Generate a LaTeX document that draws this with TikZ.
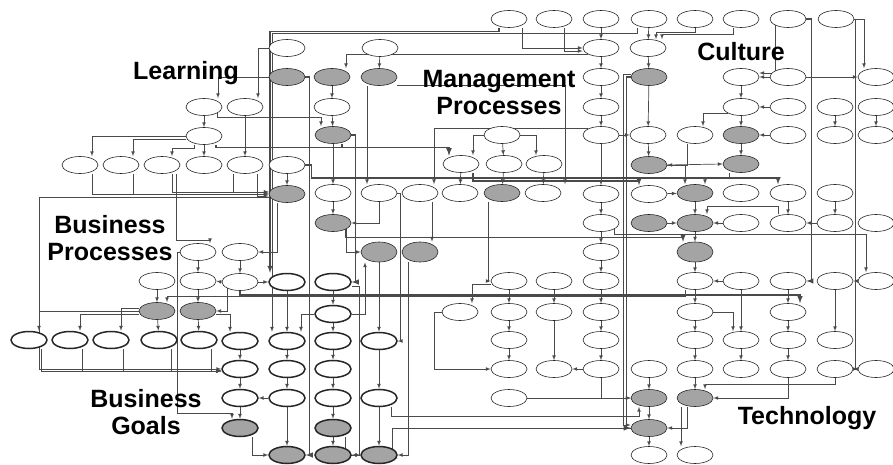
\documentclass[tikz,border=0pt]{standalone}
\usepackage{fontspec}
\setmainfont{Liberation Sans}
\usetikzlibrary{shapes}
\usetikzlibrary{arrows}
\usetikzlibrary{calc}
\definecolor{key gray}{HTML}{A4A4A4}
\definecolor{wire gray}{HTML}{4A4A4A}
\pgfdeclarelayer{wires}
\pgfsetlayers{wires,main}

\tikzset{
  fact/.style = {ellipse, draw = black!85, line width = 0.6pt, fill = white,
    minimum width = 36pt, minimum height = 17pt, inner sep = 0pt},
  key/.style = {fact, fill = key gray},
  goal/.style = {fact, line width = 1.5pt},
  goalkey/.style = {goal, fill = key gray},
  wire/.style = {draw = wire gray, line width = 0.7pt, ->, >=latex},
  band/.style = {wire, line width = 1.4pt},
  area/.style = {font = \fontsize{25}{27}\selectfont\bfseries, align = center, inner sep = 0pt}
}

\begin{document}
\begin{tikzpicture}[x = 1pt, y = -1pt]
  \useasboundingbox (0, 0) rectangle (893, 465);

  % factors
  \foreach \n/\x/\y in {r1c12/509/19, r1c13/554/19, r1c14/601/19, r1c15/649/19, r1c16/695/19,
      r1c17/741/19, r1c18/788/19, r1c19/836/19,
      r2c7/287/48, r2c9/380/48, r2c14/601/48, r2c15/648/48,
      r3c14/601/77, r3c17/741/77, r3c18/788/77, r3c20/876/77,
      r4c5/204/107, r4c6/245/107, r4c8/332/107, r4c14/601/107, r4c17/741/107, r4c18/788/107,
      r4c19/835/107, r4c20/876/107,
      r5c5/204/136, r5c12/502/135, r5c14/601/135, r5c15/648/135, r5c16/695/135, r5c18/788/135,
      r5c19/835/135, r5c20/876/135,
      r6c2/80/165, r6c3/121/165, r6c4/162/165, r6c5/204/165, r6c6/245/165, r6c7/287/165,
      r6c11/461/164, r6c12/504/164, r6c13/544/164,
      r7c8/333/193, r7c9/379/193, r7c10/420/193, r7c11/460/193, r7c13/543/193, r7c14/601/194,
      r7c15/649/194, r7c17/741/193, r7c18/788/193, r7c19/835/193,
      r8c14/601/223, r8c17/741/223, r8c18/788/223, r8c19/835/223, r8c20/876/223,
      r9c5/198/252, r9c6/240/252, r9c14/601/252,
      r10c4/157/281, r10c5/198/281, r10c6/240/282, r10c12/509/281, r10c13/554/281, r10c14/601/281,
      r10c16/695/281, r10c17/741/281, r10c18/788/281, r10c19/835/281, r10c20/876/281,
      r11c11/460/312, r11c12/509/312, r11c13/554/312, r11c14/601/312, r11c16/695/312, r11c18/788/312,
      r12c12/509/340, r12c14/601/340, r12c16/695/340, r12c17/741/340, r12c18/788/340, r12c19/835/340,
      r13c12/509/369, r13c13/554/369, r13c14/601/369, r13c15/649/369, r13c16/695/369,
      r13c17/741/369, r13c18/788/369, r13c19/835/369, r13c20/876/369,
      r14c12/509/398, r16c15/649/455, r16c16/695/455}
    \node[fact] (\n) at (\x, \y) {};

  % key factors
  \foreach \n/\x/\y in {r3c7/287/77, r3c8/332/77, r3c9/379/77, r3c15/649/77, r5c8/333/135,
      r5c17/741/135, r6c15/649/165, r6c17/741/164, r7c7/287/194, r7c12/502/193, r7c16/695/193,
      r8c8/333/223, r8c15/649/223, r8c16/695/223, r11c4/157/311, r11c5/198/311,
      r14c15/649/398, r14c16/695/398, r15c15/649/428}
    \node[key] (\n) at (\x, \y) {};
  \foreach \n/\x/\y in {r9c9/379/252, r9c10/420/252, r9c16/695/252}
    \node[key, minimum height = 20pt] (\n) at (\x, \y) {};

  % business goals
  \foreach \n/\x/\y in {r10c7/287/282, r10c8/333/282, r11c8/333/314,
      r12c1/29/340, r12c2/70/340, r12c3/111/340, r12c4/159/340, r12c5/199/340,
      r12c6/240/341, r12c7/287/341, r12c8/333/341, r12c9/379/341,
      r13c6/240/369, r13c7/287/369, r13c8/333/369,
      r14c6/240/398, r14c7/287/398, r14c8/333/398, r14c9/379/398}
    \node[goal] (\n) at (\x, \y) {};
  \foreach \n/\x/\y in {r15c6/240/428, r15c8/333/428, r16c7/287/455, r16c8/333/455, r16c9/379/455}
    \node[goalkey] (\n) at (\x, \y) {};

  % areas
  \node[area] (learning) at (186, 73) {Learning};
  \node[area] (mgmt) at (499, 93) {Management\\Processes};
  \node[area] (culture) at (741, 52) {Culture};
  \node[area] (bizproc) at (110, 238) {Business\\Processes};
  \node[area] (bizgoals) at (146, 412) {Business\\Goals};
  \node[area] (tech) at (807, 418) {Technology};

  \begin{pgfonlayer}{wires}
    \fill[white] (0, 0) rectangle (893, 465);

    % learning
    \draw[wire] (r3c7.west) -| ([xshift=14pt]r4c5.north);
    \draw[wire] (r2c7.west) -| ([xshift=13pt]r4c6.north);
    \draw[wire] (r4c5) -- (r5c5);
    \draw[wire] (r4c6) -- (r6c6);
    \draw[wire] (r4c5.south east) -- ++(0, 4) -| ([xshift=-12pt]r5c8.north);
    \draw[wire] (r5c5.west) -| ([xshift=12pt]r6c2.north);
    \draw[wire] ([yshift=-3pt]r5c5.west) -| ([xshift=12pt]r6c3.north);
    \draw[wire] ([xshift=-10pt]r5c5.south) -- ++(0, 4) -| ([xshift=10pt]r6c4.north);
    \draw[wire] (r5c5) -- (r6c5);
    \draw[wire] ([xshift=12pt]r6c2.south) |- (r7c7.west);
    \draw[wire] ([xshift=12pt]r6c3.south) |- (r7c7.west);
    \draw[wire] ([xshift=10pt]r6c4.south) |- ([yshift=2pt]r7c7.west);
    \draw[wire] ([xshift=-12pt]r6c6.south) |- ([yshift=2pt]r7c7.west);
    \draw[wire] ([xshift=12pt]r6c6.south) |- ([yshift=-2pt]r7c7.west);
    \draw[wire] (r6c7) -- (r7c7);
    \draw[band] ([xshift=-10pt]r1c12.south) -- ++(0, 4) -| ([xshift=-17pt]r10c7.north);
    \draw[wire] ([xshift=-12pt]r1c15.south) -- ++(0, 6) -| ([xshift=-15pt]r12c7.north);

    % business processes
    \draw[wire] ([yshift=-3pt]r7c7.west) -- ++(-229, 0) |- (r13c6.west);
    \draw[wire] ([xshift=14pt]r6c4.south) -- ++(0, 67) -| ([xshift=12pt]r9c5.north);
    \draw[wire] ([xshift=-10pt]r7c7.south) |- (r9c6.east);
    \draw[wire] (r9c5) -- (r10c5);
    \draw[wire] (r9c6) -- (r10c6);
    \draw[wire] (r10c6.west) -- (r10c5.east);
    \draw[wire] (r10c4) -- (r11c4);
    \draw[wire] (r10c5) -- (r11c5);
    \draw[wire] (r10c6.south west) |- (r11c5.east);
    \draw[wire] (r10c6.east) -- (r10c7.west);
    \draw[wire] (r9c5.west) -- ++(-2, 0) -- ++(0, 161) -| ([xshift=-8pt]r15c6.north);

    % business goals
    \draw[wire] (r11c4) -- (r12c4);
    \draw[wire] (r11c5) -- (r12c5);
    \draw[wire] (r11c4.west) -| ([xshift=10pt]r12c1.north);
    \draw[wire] ([yshift=-3pt]r11c4.west) -| ([xshift=10pt]r12c2.north);
    \draw[wire] ([yshift=3pt]r11c4.west) -| ([xshift=10pt]r12c3.north);
    \draw[wire] ([yshift=-3pt]r11c5.east) -| ([xshift=-10pt]r12c6.north);
    \foreach \n in {r12c1, r12c2, r12c3, r12c4, r12c5}
      \draw[wire] ([xshift=12pt]\n.south) |- ([yshift=-2pt]r13c6.west);
    \foreach \a/\b in {r12c6/r13c6, r13c6/r14c6, r14c6/r15c6, r10c7/r12c7, r12c7/r13c7,
        r13c7/r14c7, r14c7/r16c7, r10c8/r11c8, r11c8/r12c8, r12c8/r13c8, r13c8/r14c8,
        r14c8/r15c8, r15c8/r16c8, r9c9/r12c9, r12c9/r14c9, r14c9/r16c9}
      \draw[wire] (\a) -- (\b);
    \draw[wire] ([xshift=12pt]r15c6.south) |- (r16c7.west);
    \draw[wire] (r14c7) -- (r14c6);
    \draw[wire] (r11c8.west) -| ([xshift=14pt]r12c7.north);
    \draw[wire] (r11c8.east) -| ([xshift=-14pt]r9c9.south);
    \draw[wire] ([xshift=12pt]r15c8.south) |- (r16c9.west);
    \draw[wire] ([xshift=-12pt]r9c10.south) |- (r16c9.east);
    \draw[wire] ([yshift=-4pt]r10c8.east) -- ++(8, 0) |- (r16c8.east);

    % management processes
    \draw[wire] (r3c8) -- (r4c8);
    \draw[wire] (r4c8) -- (r5c8);
    \draw[wire] (r2c9) -- (r3c9);
    \draw[wire] (r2c14.south west) -| ([xshift=14pt]r3c8.north);
    \draw[wire] ([yshift=-8pt]r3c9.east) -| ([xshift=22pt]r7c13.north);
    \draw[wire] (r5c14.north west) -| ([xshift=14pt]r7c10.north);
    \draw[wire] ([xshift=-12pt]r3c9.south) -- ([xshift=-12pt]r7c9.north);
    \draw[band] ([xshift=9pt]r5c8.south) -- ++(0, 4) -| ([xshift=-12pt]r6c11.north);
    \draw[band] ([xshift=12pt]r5c5.south) -- ++(0, 3) -| ([xshift=-12pt]r6c11.north);
    \draw[band] (r5c8.east) -- ++(4, 0) |- (r10c8.east);
    \draw[band] (r3c7.east) -- ++(4, 0) |- (r16c7.east);
    \draw[wire] (r5c8) -- (r7c8);
    \draw[wire] (r7c8) -- (r8c8);
    \draw[wire] (r7c9.south) |- (r8c8.east);
    \draw[wire] (r8c8.south east) |- (r9c9.west);
    \draw[wire] (r7c9.east) -- ++(3, 0) |- (r12c9.east);
    \draw[wire] ([xshift=12pt]r7c10.south) -- ([xshift=12pt]r9c10.north);
    \draw[wire] (r5c12.west) -| ([xshift=12pt]r6c11.north);
    \draw[wire] (r5c12) -- (r6c12);
    \draw[wire] (r5c12.east) -| ([xshift=-8pt]r6c13.north);
    \draw[wire] (r6c11) -- (r7c11);
    \draw[wire] (r6c12) -- (r7c12);
    \draw[wire] (r6c13) -- (r7c13);
    \draw[wire] ([xshift=-14pt]r7c12.south) |- (r10c12.west);

    % long bands
    \draw[band] (r6c7.east) -- ++(6, 0) -- ++(0, 13) -| ([xshift=-10pt]r7c18.north);
    \draw[band] ([xshift=12pt]r6c11.south) -- ++(0, 8) -| ([xshift=-10pt]r7c15.north);
    \draw[wire] (r6c15.east) -- (r6c17.west);
    \draw[band] (r8c8.south east) -- ++(0, 8) -| ([xshift=-12pt]r9c16.north);
    \draw[wire] (r8c14.south east) -- ++(0, 5) -| ([xshift=-10pt]r10c20.north);
    \draw[band] (r10c6.south) -- ++(0, 4) -| ([xshift=12pt]r11c18.north);
    \draw[wire] ([xshift=-10pt]r10c16.south) -- ++(0, 7) -| ([xshift=10pt]r11c4.north);

    % lower middle
    \draw[wire] (r10c12) -- (r11c12);
    \draw[wire] ([yshift=-3pt]r10c12.west) -| ([xshift=12pt]r11c11.north);
    \draw[wire] (r10c13) -- (r11c13);
    \draw[wire] (r11c11.west) -- ++(-7, 0) |- (r13c12.west);
    \draw[wire] (r11c12) -- (r12c12);
    \draw[wire] (r12c12) -- (r13c12);
    \draw[wire] (r11c13) -- (r13c13);
    \draw[wire] (r13c14) -- (r13c13);
    \draw[wire] (r14c12.east) -- (r14c15.west);
    \draw[wire] ([xshift=12pt]r14c9.south) -- ++(0, 9) -| ([xshift=-10pt]r14c15.south);
    \draw[wire] (r15c15.west) -- ++(-238, 0) |- ([yshift=-3pt]r16c9.east);

    % column of management factors
    \foreach \a/\b in {r1c14/r2c14, r2c14/r3c14, r3c14/r4c14, r4c14/r5c14, r5c14/r7c14,
        r7c14/r8c14, r8c14/r9c14, r9c14/r10c14, r10c14/r11c14, r11c14/r12c14, r12c14/r13c14}
      \draw[wire] (\a) -- (\b);
    \draw[wire] ([xshift=13pt]r1c12.south) |- (r2c14.west);
    \draw[wire] ([xshift=10pt]r1c13.south) |- ([yshift=-3pt]r2c14.west);

    % culture
    \draw[wire] (r1c15) -- (r2c15);
    \draw[wire] (r1c16.south) -- ++(0, 5) -| ([xshift=8pt]r2c15.north);
    \draw[wire] ([xshift=-8pt]r1c17.south) -- ++(0, 7) -| ([xshift=14pt]r2c15.north);
    \draw[wire] (r2c15) -- (r3c15);
    \draw[wire] (r3c15) -- (r5c15);
    \draw[wire] (r5c15) -- (r6c15);
    \draw[wire] (r5c14) -- (r5c15);
    \draw[wire] ([xshift=-8pt]r5c16.south) |- (r6c15.east);
    \draw[wire] (r3c17) -- (r4c17);
    \draw[wire] (r4c17) -- (r5c17);
    \draw[wire] (r5c17) -- (r6c17);
    \draw[wire] (r3c18) -- (r3c17);
    \draw[wire] (r1c18.south west) |- ([yshift=4pt]r3c17.east);
    \draw[wire] (r4c18) -- (r4c17);
    \draw[wire] (r5c18) -- (r5c17);
    \draw[wire] (r4c17.south west) -| ([xshift=8pt]r5c16.north);
    \draw[wire] (r3c18.east) -- (r3c20.west);
    \draw[wire] (r1c19.east) -| ([xshift=-12pt]r3c20.north);
    \draw[wire] (r4c19) -- (r5c19);
    \draw[wire] (r4c20) -- (r5c20);
    \draw[band] (r3c15.west) -- ++(-4, 0) |- (r15c15.west);
    \draw[wire] ([yshift=3pt]r3c15.west) -- ++(-7, 0) |- ([yshift=3pt]r15c15.west);
    \draw[band] (r1c18.east) -- ++(5, 0) |- (r10c18.east);
    \draw[wire] (r1c19.east) -- ++(1, 0) |- (r13c20.west);

    % technology
    \foreach \a/\b in {r7c16/r8c16, r8c16/r9c16, r9c16/r10c16, r10c16/r11c16, r11c16/r12c16,
        r12c16/r13c16, r13c16/r14c16, r10c18/r11c18, r11c18/r12c18, r12c18/r13c18,
        r12c17/r13c17, r10c17/r12c17, r10c19/r12c19, r13c15/r14c15, r14c15/r15c15,
        r15c15/r16c15, r10c20/r10c19, r13c20/r13c19, r7c15/r7c16, r8c15/r8c16,
        r8c17/r8c16, r8c19/r8c18, r10c17/r10c16, r7c18/r8c18, r7c19/r8c19}
      \draw[wire] (\a) -- (\b);
    \draw[wire] ([xshift=-12pt]r6c17.south) -- ++(0, 6) -| ([xshift=10pt]r7c16.north);
    \draw[wire] (r6c15.east) -| ([xshift=-10pt]r7c16.north);
    \draw[wire] ([xshift=-10pt]r8c18.north) -- ++(0, -8) -| ([xshift=12pt]r8c16.north);
    \draw[wire] (r11c16.east) -| ([xshift=-8pt]r12c17.north);
    \draw[wire] (r13c14.south) |- (r14c15.west);
    \draw[wire] (r13c18.south) |- (r14c16.east);
    \draw[wire] (r13c19.south) -- ++(0, 7) -| ([xshift=10pt]r14c16.north);
    \draw[wire] ([xshift=-8pt]r14c16.south) |- (r15c15.east);
    \draw[wire] ([xshift=-14pt]r14c16.south) -- ([xshift=-14pt]r16c16.north);
  \end{pgfonlayer}
\end{tikzpicture}
\end{document}
